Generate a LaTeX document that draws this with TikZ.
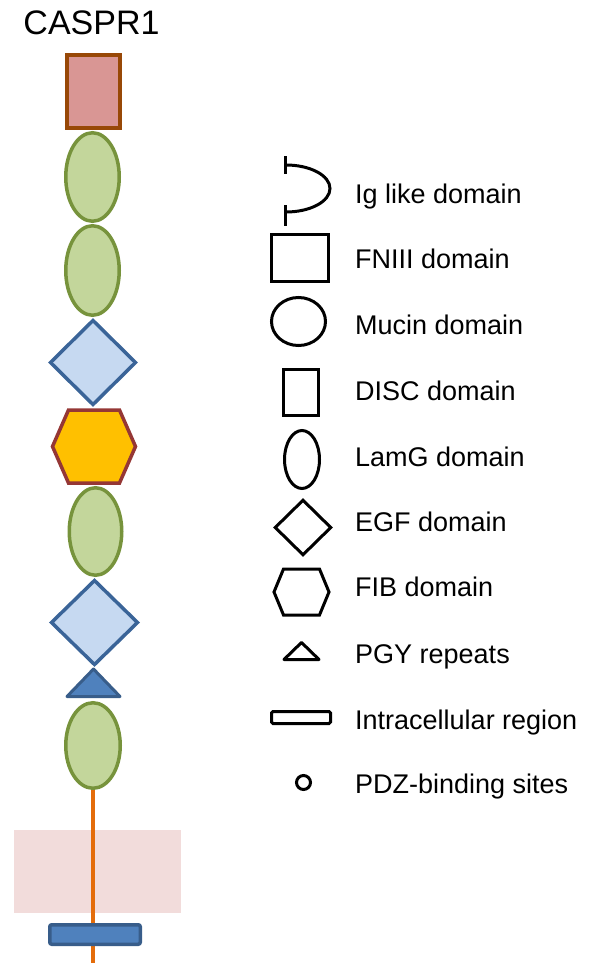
\documentclass[tikz,border=0pt]{standalone}
\usepackage{fontspec}
\setmainfont{Liberation Sans}
\usetikzlibrary{shapes.geometric}
\definecolor{pinkfill}{HTML}{D99694}
\definecolor{brownline}{HTML}{984807}
\definecolor{greenfill}{HTML}{C3D69B}
\definecolor{greenline}{HTML}{77933C}
\definecolor{bluefill}{HTML}{C6D9F1}
\definecolor{blueline}{HTML}{3A6498}
\definecolor{hexfill}{HTML}{FFC000}
\definecolor{hexline}{HTML}{953735}
\definecolor{darkfill}{HTML}{4F81BD}
\definecolor{darkline}{HTML}{385D8A}
\definecolor{stalk}{HTML}{E46C0A}
\definecolor{band}{HTML}{F2DCDB}
\begin{document}
\begin{tikzpicture}[x=1pt,y=-1pt,
  dom/.style={inner sep=0pt,outer sep=0pt,line width=3.5pt},
  lamg/.style={dom,ellipse,draw=greenline,fill=greenfill},
  egf/.style={dom,diamond,draw=blueline,fill=bluefill},
  leg/.style={inner sep=0pt,outer sep=0pt,line width=3pt,draw=black},
  legtext/.style={anchor=base west,inner sep=0pt,font=\fontsize{27}{32}\selectfont}]
\useasboundingbox (0,0) rectangle (594,963);
% title
\node[anchor=base,inner sep=0pt,font=\fontsize{34}{40}\selectfont] (title) at (91.5,35) {CASPR1};
% membrane band
\fill[band] (14,830) rectangle (181,913);
% stalk
\coordinate (stalkend) at (93,963);
\node[dom,ellipse,minimum width=54.5pt,minimum height=85.5pt] (e4) at (93,745.5) {};
\draw[stalk,line width=4.5pt] (e4.south) -- (stalkend);
% domains
\node[dom,rectangle,line width=4pt,draw=brownline,fill=pinkfill,minimum width=53pt,minimum height=73pt] (fn) at (93.5,91.5) {};
\node[lamg,minimum width=53.5pt,minimum height=88.5pt] (e1) at (92.5,177) {};
\node[lamg,minimum width=53.5pt,minimum height=89.5pt] (e2) at (92.5,270.5) {};
\node[egf,minimum width=85pt,minimum height=84pt] (d1) at (93,362.5) {};
\draw[line width=3.5pt,draw=hexline,fill=hexfill,line join=miter]
  (52.5,446.5) coordinate (hl) -- (68.5,410) -- (119.5,410) -- (135.5,446.5) coordinate (hr) -- (119.5,483) -- (68.5,483) -- cycle;
\node[lamg,minimum width=52.5pt,minimum height=87.5pt] (e3) at (95.5,531.5) {};
\node[egf,minimum width=86pt,minimum height=84pt] (d2) at (94.5,622.5) {};
\draw[line width=3pt,draw=darkline,fill=darkfill,line join=round]
  (93.5,669) coordinate (pgytop) -- (120,696.5) -- (67,696.5) -- cycle;
\node[lamg,minimum width=54.5pt,minimum height=85.5pt] (e4b) at (93,745.5) {};
\node[dom,rectangle,rounded corners=2pt,draw=darkline,fill=darkfill,minimum width=90.5pt,minimum height=19.5pt] (icr) at (95,934.5) {};
% legend icons
\draw[line width=3pt] (285,156) -- (285,174);
\draw[line width=3pt] (285,205) -- (285,226);
\draw[line width=3pt] (286,165) arc[start angle=-90,end angle=90,x radius=44,y radius=23.5];
\node[leg,rectangle,minimum width=57pt,minimum height=47pt] (lfn) at (300,258) {};
\node[leg,ellipse,minimum width=54pt,minimum height=48pt] (lmuc) at (298.5,321.5) {};
\node[leg,rectangle,minimum width=35pt,minimum height=46pt] (ldisc) at (301,392.5) {};
\node[leg,ellipse,minimum width=35pt,minimum height=58pt] (llamg) at (302,459.5) {};
\node[leg,diamond,minimum width=55.5pt,minimum height=54.5pt] (legf) at (303,527.5) {};
\draw[line width=3pt] (274,592) -- (283.5,569) -- (319.5,569) -- (329,592) -- (319.5,615) -- (283.5,615) -- cycle;
\draw[line width=3pt,line join=round] (301.5,642.5) -- (319,659.5) -- (284,659.5) -- cycle;
\node[leg,rectangle,rounded corners=1.5pt,minimum width=59pt,minimum height=12pt] (licr) at (301,717.5) {};
\node[leg,circle,minimum size=14pt] (lpdz) at (303.5,782.5) {};
% legend texts
\node[legtext] (t1) at (355,203.3) {Ig like domain};
\node[legtext] (t2) at (355,268.3) {FNIII domain};
\node[legtext] (t3) at (355,334.3) {Mucin domain};
\node[legtext] (t4) at (355,400) {DISC domain};
\node[legtext] (t5) at (355,466) {LamG domain};
\node[legtext] (t6) at (355,531.7) {EGF domain};
\node[legtext] (t7) at (355,596.7) {FIB domain};
\node[legtext] (t8) at (355,663) {PGY repeats};
\node[legtext] (t9) at (355,729) {Intracellular region};
\node[legtext] (t10) at (355,793) {PDZ-binding sites};
\end{tikzpicture}
\end{document}
